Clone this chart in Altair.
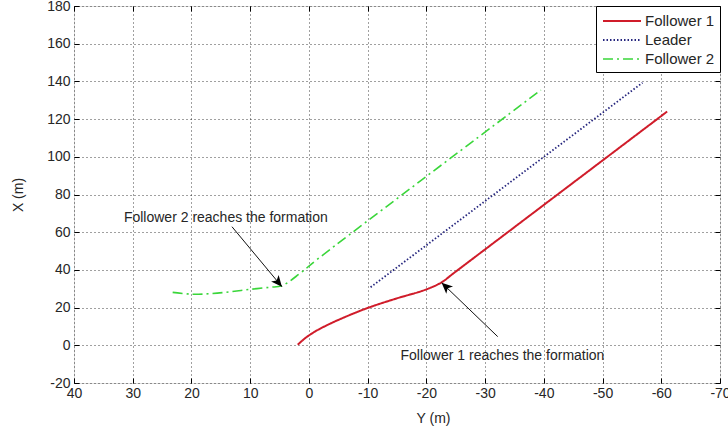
import altair as alt
import pandas as pd

# ---------------- data ----------------
series_names = ["Follower 1", "Leader", "Follower 2"]

f1_y = [1.9, 0.67, -1.04, -3.3, -6.15, -10.0, -14.66, -19.77, -22.6, -24.5, -61.0]
f1_x = [0.3, 3.7, 7.3, 11.0, 15.0, 19.8, 24.6, 29.4, 33.4, 37.9, 124.0]

lead_y = [-10.5, -56.8]
lead_x = [30.8, 139.3]

f2_y = [23.2, 20.0, 16.8, 13.4, 10.0, 6.6, 4.6, 1.5, -1.3, -39.5]
f2_x = [28.1, 27.1, 27.4, 28.4, 29.7, 30.8, 31.6, 38.2, 45.3, 135.4]

x_ticks = [40, 30, 20, 10, 0, -10, -20, -30, -40, -50, -60, -70]
y_ticks = [-20, 0, 20, 40, 60, 80, 100, 120, 140, 160, 180]

ann_text = ["Follower 2 reaches the formation", "Follower 1 reaches the formation"]
ann_text_y = [31.5, -15.6]
ann_text_x = [67.5, -5.5]
arrow_from_y = [13.1, -32.15]
arrow_from_x = [62.9, 4.6]
arrow_to_y = [4.6, -22.6]
arrow_to_x = [31.1, 33.2]
arrow_angle = [140, 313]

colors = ["#d01c2a", "#26267e", "#3ad63a"]
dashes = [[1, 0], [1.5, 2], [10, 4, 2, 4]]
widths = [2, 1.6, 2.5]

FONT = "Liberation Sans"
TXT = "#262626"

rows = []
for name, ys, xs in [("Follower 1", f1_y, f1_x), ("Leader", lead_y, lead_x), ("Follower 2", f2_y, f2_x)]:
    for i, (a, b) in enumerate(zip(ys, xs)):
        rows.append({"series": name, "Y": a, "X": b, "i": i})
df = pd.DataFrame(rows)

df_ann = pd.DataFrame({"label": ann_text, "Y": ann_text_y, "X": ann_text_x})
df_arr = pd.DataFrame({"Y": arrow_from_y, "X": arrow_from_x, "Y2": arrow_to_y,
                       "X2": arrow_to_x, "ang": arrow_angle})

xscale = alt.Scale(domain=[40, -70], nice=False, zero=False)
yscale = alt.Scale(domain=[-20, 180], nice=False, zero=False)

legend = alt.Legend(
    title=None, orient="top-right", offset=0, fillColor="white", strokeColor="black",
    padding=5, symbolType="M-2.11,0L2.11,0", symbolSize=324, symbolOffset=11,
    labelFont=FONT, labelFontSize=15, labelColor=TXT, rowPadding=1, labelOffset=13,
    cornerRadius=0, symbolFillColor="transparent",
)

x_axis = alt.Axis(values=x_ticks, title="Y (m)", offset=-5, tickSize=5, tickColor="#000",
                  domain=False, grid=True, gridColor="#000", gridDash=[1, 3], gridOpacity=0.75,
                  labelPadding=3, labelFont=FONT, labelFontSize=14, labelColor=TXT,
                  labelExpr="datum.value + ''",
                  titleFont=FONT, titleFontSize=14, titleFontWeight="normal", titleColor=TXT,
                  titleX=359, titleY=40, titleBaseline="middle", labelFlush=False)
y_axis = alt.Axis(values=y_ticks, title="X (m)", offset=-5, tickSize=5, tickColor="#000",
                  domain=False, grid=True, gridColor="#000", gridDash=[1, 3], gridOpacity=0.75,
                  labelPadding=4, labelFont=FONT, labelFontSize=14, labelColor=TXT,
                  labelExpr="datum.value + ''",
                  titleFont=FONT, titleFontSize=14, titleFontWeight="normal", titleColor=TXT,
                  titleX=-61, titleY=188.5, titleAlign="center", titleBaseline="middle",
                  labelFlush=False)

lines = alt.Chart(df).mark_line(strokeCap="butt", interpolate="catmull-rom").encode(
    x=alt.X("Y:Q", scale=xscale, axis=x_axis),
    y=alt.Y("X:Q", scale=yscale, axis=y_axis),
    color=alt.Color("series:N", scale=alt.Scale(domain=series_names, range=colors), legend=legend),
    strokeDash=alt.StrokeDash("series:N", scale=alt.Scale(domain=series_names, range=dashes), legend=legend),
    strokeWidth=alt.StrokeWidth("series:N", scale=alt.Scale(domain=series_names, range=widths), legend=legend),
    order="i:Q",
)

arrows = alt.Chart(df_arr).mark_rule(color="#111", strokeWidth=1).encode(
    x=alt.X("Y:Q", scale=xscale, axis=None),
    y=alt.Y("X:Q", scale=yscale, axis=None),
    x2="Y2:Q", y2="X2:Q",
)

heads = alt.Chart(df_arr).mark_point(
    shape="M0,0 L-0.45,1 L0,0.75 L0.45,1 Z", filled=True, color="#000", opacity=1, size=480,
).encode(
    x=alt.X("Y2:Q", scale=xscale, axis=None),
    y=alt.Y("X2:Q", scale=yscale, axis=None),
    angle=alt.Angle("ang:Q", scale=None),
)

texts = alt.Chart(df_ann).mark_text(align="left", baseline="middle", font=FONT, fontSize=14,
                                    color=TXT).encode(
    x=alt.X("Y:Q", scale=xscale, axis=None),
    y=alt.Y("X:Q", scale=yscale, axis=None),
    text="label:N",
)

ticks_tr = alt.Chart(pd.DataFrame({"Y": lead_y, "X": lead_x})).mark_point(opacity=0).encode(
    x=alt.X("Y:Q", scale=xscale, axis=alt.Axis(orient="top", values=x_ticks, labels=False, grid=False,
                                               domain=False, tickSize=5, tickColor="#000", offset=-5,
                                               title=None)),
    y=alt.Y("X:Q", scale=yscale, axis=alt.Axis(orient="right", values=y_ticks, labels=False, grid=False,
                                               domain=False, tickSize=5, tickColor="#000", offset=-5,
                                               title=None)),
)

chart = alt.layer(lines, arrows, heads, texts, ticks_tr).resolve_axis(
    x="independent", y="independent"
).properties(
    width=646, height=377,
    autosize=alt.AutoSizeParams(type="none"),
    padding={"left": 74, "top": 6, "right": 8, "bottom": 51},
).configure_view(stroke="#000", strokeWidth=1).configure(background="white")

chart.save("out.html", embed_options={"renderer": "svg", "actions": False})
